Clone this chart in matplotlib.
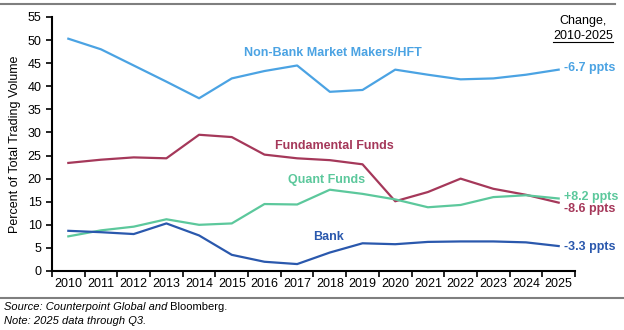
import matplotlib
matplotlib.use('Agg')
import matplotlib.pyplot as plt
from matplotlib.lines import Line2D

plt.rcParams['font.family'] = ['Liberation Sans', 'DejaVu Sans']

# ── Data ──────────────────────────────────────────────────────────────────────
years = [str(y) for y in range(2010, 2026)]
nonbank = [50.3, 48.0, 44.5, 41.0, 37.4, 41.7, 43.3, 44.5, 38.8, 39.2,
           43.6, 42.5, 41.5, 41.7, 42.5, 43.6]
fundamental = [23.4, 24.1, 24.6, 24.4, 29.5, 29.0, 25.2, 24.4, 24.0, 23.1,
               15.1, 17.1, 20.0, 17.8, 16.5, 14.8]
quant = [7.5, 8.8, 9.6, 11.2, 10.0, 10.3, 14.5, 14.4, 17.6, 16.7,
         15.5, 13.8, 14.3, 16.0, 16.4, 15.7]
bank = [8.7, 8.4, 8.0, 10.3, 7.7, 3.5, 2.0, 1.5, 4.0, 6.0,
        5.8, 6.3, 6.4, 6.4, 6.2, 5.4]
changes = ["-6.7 ppts", "+8.2 ppts", "-8.6 ppts", "-3.3 ppts"]

C_NB = "#4ba3e3"
C_FUND = "#a5385a"
C_QUANT = "#5cc89c"
C_BANK = "#2a58ad"

fig = plt.figure(figsize=(6.24, 3.30), dpi=100)
ax = fig.add_axes([0.0833, 0.1788, 0.8382, 0.7697])

x = range(len(years))
ax.plot(x, nonbank, color=C_NB, lw=1.6)
ax.plot(x, fundamental, color=C_FUND, lw=1.6)
ax.plot(x, quant, color=C_QUANT, lw=1.6)
ax.plot(x, bank, color=C_BANK, lw=1.6)

ax.set_xlim(-0.5, len(years) - 0.5)
ax.set_ylim(0, 55)
ax.set_yticks(range(0, 56, 5))
ax.set_xticks(list(x))
ax.set_xticklabels(years, fontsize=9)
ax.set_xticks([i - 0.5 for i in range(len(years) + 1)], minor=True)
ax.tick_params(axis='x', which='major', length=0, pad=5)
ax.tick_params(axis='x', which='minor', length=4, width=1.2, direction='out')
ax.tick_params(axis='y', labelsize=9, length=4, width=1.2, direction='out')
for s in ['top', 'right']:
    ax.spines[s].set_visible(False)
for s in ['left', 'bottom']:
    ax.spines[s].set_linewidth(1.5)
ax.set_ylabel("Percent of Total Trading Volume", fontsize=9, labelpad=5)

# series labels
lab = dict(fontsize=9, fontweight='bold', ha='center', va='center')
ax.text(8.1, 47.2, "Non-Bank Market Makers/HFT", color=C_NB, **lab)
ax.text(8.15, 27.0, "Fundamental Funds", color=C_FUND, **lab)
ax.text(7.9, 19.7, "Quant Funds", color=C_QUANT, **lab)
ax.text(7.95, 7.4, "Bank", color=C_BANK, **lab)

# change labels
rx = 15.15
for txt, yv, c in zip(changes, [43.9, 16.1, 13.4, 5.3],
                      [C_NB, C_QUANT, C_FUND, C_BANK]):
    ax.text(rx, yv, txt, color=c, fontsize=9, fontweight='bold',
            ha='left', va='center', clip_on=False)

fig.text(0.934, 0.936, "Change,", fontsize=9, ha='center', va='center')
fig.text(0.934, 0.891, "2010-2025", fontsize=9, ha='center', va='center')
fig.add_artist(Line2D([0.887, 0.982], [0.872, 0.872], color='black', lw=0.8))

# frame lines
fig.add_artist(Line2D([0, 0.985], [0.988, 0.988], color='#7f7f7f', lw=1.5))
fig.add_artist(Line2D([0, 1], [0.097, 0.097], color='#7f7f7f', lw=1.5))

t1 = fig.text(0.006, 0.070, "Source: Counterpoint Global and", fontsize=8,
              style='italic', ha='left', va='center')
r = fig.canvas.get_renderer()
bb = t1.get_window_extent(r).transformed(fig.transFigure.inverted())
fig.text(bb.x1, 0.070, " Bloomberg.", fontsize=8, ha='left', va='center')
fig.text(0.006, 0.027, "Note: 2025 data through Q3.", fontsize=8,
         style='italic', ha='left', va='center')

fig.savefig("out.png", dpi=100)
